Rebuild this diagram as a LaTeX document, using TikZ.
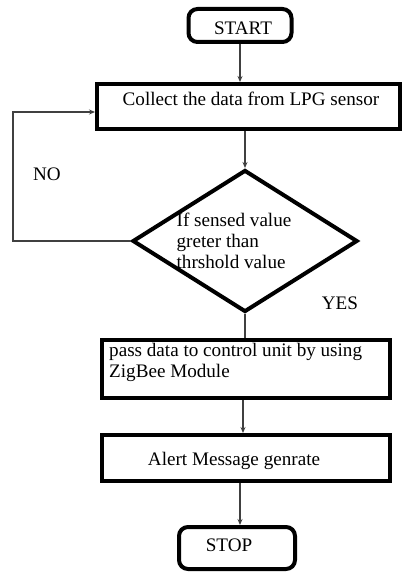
\documentclass[tikz,border=0pt]{standalone}
\usepackage{fontspec}
\setmainfont{Liberation Serif}
\usetikzlibrary{arrows.meta,shapes.geometric,calc}
\begin{document}
\begin{tikzpicture}[x=1bp,y=-1bp,
  box/.style={draw=black,line width=4bp,inner sep=0pt},
  term/.style={box,rounded corners=9bp},
  txt/.style={font=\fontsize{19.2}{21}\selectfont,inner sep=0pt},
  conn/.style={draw=black!75,line width=1.1bp},
  arr/.style={conn,-{Stealth[length=6bp,width=5bp]}}
]
\useasboundingbox (0,0) rectangle (403,573);

% shapes
\node[term,minimum width=103bp,minimum height=33bp] (start) at (240,25.5) {};
\node[txt] (starttxt) at (243,28) {START};

\node[box,minimum width=303bp,minimum height=45bp] (collect) at (248.5,106.5) {};
\node[txt] (collecttxt) at (251,99) {Collect the data from LPG sensor};

\node[diamond,draw=black,line width=4bp,inner sep=0pt,minimum width=225bp,minimum height=142bp] (dia) at (245,241) {};
\node[txt,align=left] (diatxt) at (234,241) {If sensed value\\greter than\\thrshold value};

\node[box,minimum width=288bp,minimum height=58bp] (pass) at (246,369) {};
\node[txt,align=left,anchor=west] (passtxt) at (109,362) {pass data to control unit by using\\ZigBee Module};

\node[box,minimum width=288bp,minimum height=46bp] (alert) at (246,458) {};
\node[txt] (alerttxt) at (234,461) {Alert Message genrate};

\node[term,minimum width=116bp,minimum height=42bp] (stop) at (237,548) {};
\node[txt] (stoptxt) at (229,545) {STOP};

% labels
\node[txt] (no) at (47,174) {NO};
\node[txt] (yes) at (340,303) {YES};

% connectors
\coordinate (loop) at (13,112);
\draw[arr] (start.south) -- (start.south |- collect.north);
\draw[arr] (dia.north |- collect.south) -- (dia.north);
\draw[conn] (dia.south) -- (dia.south |- pass.north);
\draw[arr] ($(pass.south)+(-3,0)$) -- ($(alert.north)+(-3,0)$);
\draw[arr] ($(stop.north |- alert.south)+(3,0)$) -- ($(stop.north)+(3,0)$);
\draw[arr] (dia.west) -| (loop) -- (loop -| collect.west);
\end{tikzpicture}
\end{document}
